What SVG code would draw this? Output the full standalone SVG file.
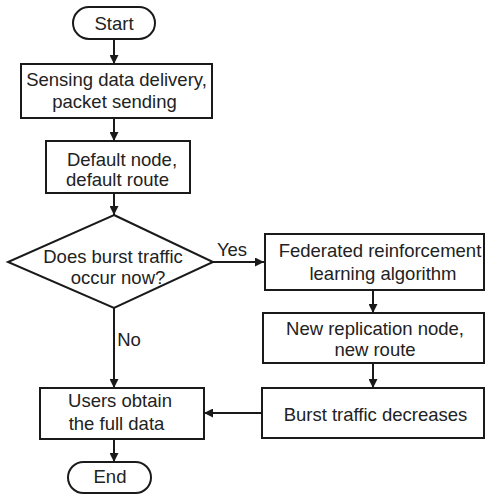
<svg xmlns="http://www.w3.org/2000/svg" width="486" height="495" viewBox="0 0 486 495">
  <defs>
    <marker id="arrow" viewBox="0 0 10 10" refX="10" refY="5" markerWidth="10" markerHeight="9" markerUnits="userSpaceOnUse" orient="auto">
      <path d="M0,0 L10,5 L0,10 z" fill="#1a1a1a"/>
    </marker>
  </defs>
  <style>
    .shape { fill: #ffffff; stroke: #1a1a1a; stroke-width: 2; }
    .label { font-family: "Liberation Sans", Arial, sans-serif; font-size: 18.5px; fill: #222222; text-anchor: middle; }
    .edge { fill: none; stroke: #1a1a1a; stroke-width: 2; marker-end: url(#arrow); }
  </style>
  <rect width="486" height="495" fill="#ffffff"/>

  <g id="connectors">
    <line class="edge" x1="114" y1="39" x2="114" y2="64"/>
    <line class="edge" x1="114" y1="118" x2="114" y2="141"/>
    <line class="edge" x1="114" y1="193" x2="114" y2="215"/>
    <line class="edge" x1="213" y1="262" x2="264" y2="262"/>
    <line class="edge" x1="114" y1="308" x2="114" y2="388"/>
    <line class="edge" x1="373" y1="290" x2="373" y2="313"/>
    <line class="edge" x1="373" y1="363" x2="373" y2="388"/>
    <line class="edge" x1="262" y1="413" x2="204" y2="413"/>
    <line class="edge" x1="114" y1="439" x2="114" y2="462"/>
    <text class="label" x="232" y="256">Yes</text>
    <text class="label" x="129" y="346">No</text>
  </g>

  <g id="start">
    <rect class="shape" x="73" y="7" width="82" height="32" rx="16"/>
    <text class="label" x="114" y="30">Start</text>
  </g>

  <g id="sensing">
    <rect class="shape" x="21" y="64" width="191" height="54"/>
    <text class="label" x="116.5" y="86">Sensing data delivery,</text>
    <text class="label" x="114.5" y="108">packet sending</text>
  </g>

  <g id="default">
    <rect class="shape" x="46" y="141" width="144" height="52"/>
    <text class="label" x="122" y="166">Default node,</text>
    <text class="label" x="117.5" y="186">default route</text>
  </g>

  <g id="decision">
    <polygon class="shape" points="114,215 213,262 114,308 8,262"/>
    <text class="label" x="113" y="263">Does burst traffic</text>
    <text class="label" x="118" y="284">occur now?</text>
  </g>

  <g id="federated">
    <rect class="shape" x="265" y="234" width="219" height="56"/>
    <text class="label" x="380" y="257">Federated reinforcement</text>
    <text class="label" x="383" y="280">learning algorithm</text>
  </g>

  <g id="replication">
    <rect class="shape" x="263" y="313" width="221" height="50"/>
    <text class="label" x="375" y="335">New replication node,</text>
    <text class="label" x="375" y="356">new route</text>
  </g>

  <g id="burst">
    <rect class="shape" x="262" y="388" width="222" height="50"/>
    <text class="label" x="375.5" y="421">Burst traffic decreases</text>
  </g>

  <g id="users">
    <rect class="shape" x="40" y="388" width="164" height="51"/>
    <text class="label" x="120" y="407">Users obtain</text>
    <text class="label" x="116.5" y="430">the full data</text>
  </g>

  <g id="end">
    <rect class="shape" x="68" y="462" width="83" height="31" rx="15.5"/>
    <text class="label" x="110" y="483">End</text>
  </g>
</svg>
